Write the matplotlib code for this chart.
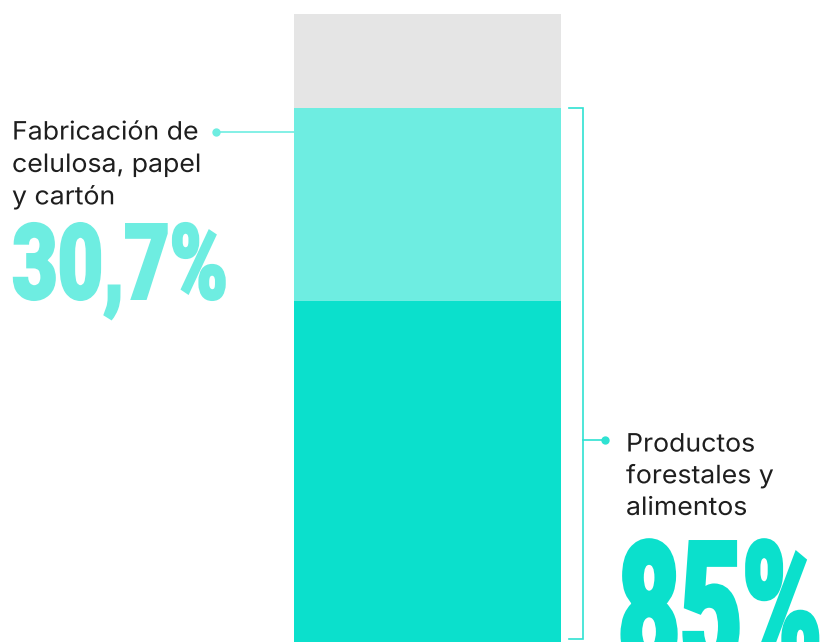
import matplotlib
matplotlib.use("Agg")
import matplotlib.pyplot as plt
import matplotlib.patheffects as pe
from matplotlib import font_manager
from matplotlib.font_manager import FontProperties
from matplotlib.transforms import Affine2D

# data
segments = ["Resto productos forestales y alimentos", "Fabricación de celulosa, papel y cartón", "Otros"]
shares = [54.3, 30.7, 15.0]
colors = ["#0BE0CC", "#6EEDE1", "#E5E5E5"]
label_left = ["Fabricación de", "celulosa, papel", "y cartón"]
value_left = "30,7%"
label_right = ["Productos", "forestales y", "alimentos"]
value_right = "85%"
bracket_share = 85.0

W, H = 825, 642
PX = 6.28  # pixels per percentage point


def py(p):
    # pixel row -> data y
    return (H - p) / PX


class Squeeze(pe.AbstractPathEffect):
    # scale glyphs horizontally around the text origin, optional outline to fatten
    def __init__(self, sx, lw=0):
        super().__init__()
        self.sx = sx
        self.lw = lw

    def draw_path(self, renderer, gc, tpath, affine, rgbFace=None):
        x0 = affine.transform((0, 0))[0]
        a = affine + Affine2D().translate(-x0, 0).scale(self.sx, 1).translate(x0, 0)
        gc0 = renderer.new_gc()
        gc0.copy_properties(gc)
        if self.lw:
            gc0.set_linewidth(self.lw)
            gc0.set_joinstyle("miter")
        renderer.draw_path(gc0, tpath, a, rgbFace)
        gc0.restore()


def heavy_font():
    def w(f):
        v = f.weight
        return v if isinstance(v, (int, float)) else font_manager.weight_dict.get(v, 400)
    for fam in ["Roboto", "Lato", "Open Sans", "Noto Sans"]:
        cands = [f for f in font_manager.fontManager.ttflist
                 if f.name == fam and f.style == "normal" and w(f) >= 700]
        if cands:
            best = max(cands, key=w)
            return FontProperties(fname=best.fname)
    return FontProperties(family="DejaVu Sans", weight="bold")


fig = plt.figure(figsize=(W / 100, H / 100), dpi=100)
ax = fig.add_axes([0, 0, 1, 1])
ax.set_xlim(0, W)
ax.set_ylim(0, H / PX)
ax.axis("off")

bottom = 0
for v, c in zip(shares, colors):
    ax.bar(427.5, v, width=267, bottom=bottom, color=c, linewidth=0)
    bottom += v

# left connector
ax.plot([216, 294], [py(132), py(132)], color="#6EEDE1", lw=1.2, solid_capstyle="butt")
ax.plot(216, py(132), "o", color="#6EEDE1", ms=6, mec="none")

# right bracket
bc = "#2FE2D2"
ax.plot([569, 583, 583, 569], [bracket_share, bracket_share, py(639), py(639)],
        color=bc, lw=1.2, solid_joinstyle="miter")
ax.plot([583, 605], [py(440), py(440)], color=bc, lw=1.2)
ax.plot(605, py(440), "o", color=bc, ms=6, mec="none")

txt = dict(family=["Inter", "DejaVu Sans"], fontsize=18.2, color="#1E1E1E",
           va="baseline", path_effects=[Squeeze(1.055)])
for i, s in enumerate(label_left):
    ax.text(12, py(139.5 + 32.4 * i), s, ha="left", **txt)
for i, s in enumerate(label_right):
    ax.text(626, py(451.5 + 31.7 * i), s, ha="left", **txt)

big = heavy_font()
r = fig.canvas.get_renderer()


def big_text(x, base, s, cap_px, target_w, color, fat_px):
    size = (cap_px - fat_px) / 0.711 * 72 / 100
    t = ax.text(x + fat_px / 2, py(base - fat_px / 2), s, fontproperties=big,
                fontsize=size, color=color, ha="left", va="baseline", clip_on=False)
    w = t.get_window_extent(r).width
    t.set_path_effects([Squeeze((target_w - fat_px) / w, lw=fat_px * 0.72)])
    return t


big_text(11, 300, value_left, 77, 218, "#6EEDE1", 2.5)
big_text(616, 540 + 131, value_right, 131, 208, "#0BE0CC", 4)

fig.savefig("out.png", dpi=100)
